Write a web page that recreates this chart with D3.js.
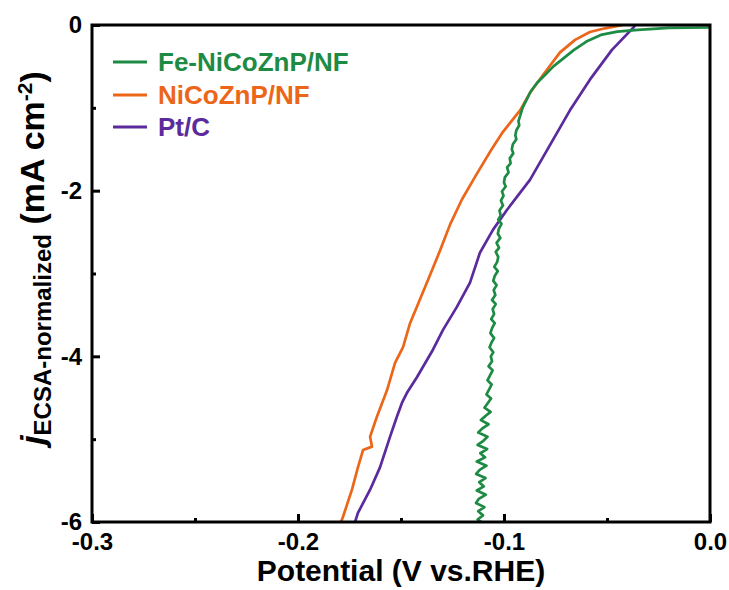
<!DOCTYPE html>
<html>
<head>
<meta charset="utf-8">
<script src="https://cdn.jsdelivr.net/npm/d3@7"></script>
<style>
	body { margin: 0; background: #fff; }
	text { font-family: "Liberation Sans", Arial, sans-serif; font-weight: bold; }
</style>
</head>
<body>
<svg id="chart" width="729" height="590"></svg>
<script>
// x: potential (V vs. RHE), y: current density (mA cm-2)
var seriesNames = ["Fe-NiCoZnP/NF", "NiCoZnP/NF", "Pt/C"];
var seriesColors = ["#1e8b45", "#ec6619", "#5b2a9c"];

var xTicks = [-0.3, -0.2, -0.1, 0.0];
var xMinor = [-0.25, -0.15, -0.05];
var yTicks = [0, -2, -4, -6];
var yMinor = [-1, -3, -5];

var feNiCoZnP = [
	[0.000,-0.03],[-0.020,-0.035],[-0.035,-0.06],[-0.045,-0.08],[-0.053,-0.12],
	[-0.060,-0.20],[-0.066,-0.30],[-0.071,-0.40],[-0.076,-0.50],[-0.080,-0.60],
	[-0.084,-0.70],[-0.087,-0.80],[-0.089,-0.90],[-0.091,-1.00],[-0.0922,-1.10],
	[-0.0930,-1.16],[-0.0926,-1.21],[-0.0940,-1.27],[-0.0945,-1.33],[-0.0940,-1.38],
	[-0.0957,-1.44],[-0.0962,-1.50],[-0.0955,-1.55],[-0.0972,-1.61],[-0.0968,-1.67],
	[-0.0985,-1.72],[-0.0978,-1.78],[-0.0996,-1.84],[-0.1000,-1.90],[-0.0992,-1.95],
	[-0.1010,-2.01],[-0.1002,-2.06],[-0.1015,-2.12],[-0.1005,-2.18],[-0.1022,-2.24],
	[-0.1016,-2.30],[-0.1028,-2.35],[-0.1012,-2.40],[-0.1025,-2.46],[-0.1030,-2.52],
	[-0.1018,-2.57],[-0.1036,-2.63],[-0.1024,-2.69],[-0.1040,-2.74],[-0.1028,-2.80],
	[-0.1033,-2.86],[-0.1047,-2.92],[-0.1030,-2.97],[-0.1045,-3.03],[-0.1052,-3.09],
	[-0.1036,-3.14],[-0.1050,-3.20],[-0.1042,-3.26],[-0.1058,-3.32],[-0.1040,-3.37],
	[-0.1055,-3.43],[-0.1048,-3.49],[-0.1062,-3.55],[-0.1045,-3.60],[-0.1058,-3.66],
	[-0.1066,-3.72],[-0.1048,-3.78],[-0.1060,-3.83],[-0.1070,-3.89],[-0.1052,-3.95],
	[-0.1064,-4.00],[-0.1058,-4.06],[-0.1075,-4.12],[-0.1055,-4.17],[-0.1068,-4.23],
	[-0.1080,-4.29],[-0.1060,-4.34],[-0.1072,-4.40],[-0.1085,-4.46],[-0.1063,-4.51],
	[-0.1080,-4.57],[-0.1095,-4.62],[-0.1065,-4.67],[-0.1090,-4.72],[-0.1112,-4.77],
	[-0.1075,-4.82],[-0.1105,-4.87],[-0.1125,-4.92],[-0.1080,-4.97],[-0.1100,-5.02],
	[-0.1128,-5.07],[-0.1082,-5.12],[-0.1115,-5.17],[-0.1092,-5.22],[-0.1132,-5.27],
	[-0.1085,-5.32],[-0.1118,-5.37],[-0.1135,-5.42],[-0.1090,-5.47],[-0.1120,-5.52],
	[-0.1098,-5.57],[-0.1132,-5.62],[-0.1088,-5.67],[-0.1122,-5.72],[-0.1136,-5.77],
	[-0.1095,-5.82],[-0.1125,-5.87],[-0.1102,-5.92],[-0.1128,-5.97],[-0.1110,-6.00]
];
var niCoZnP = [
	[-0.0422,0.00],[-0.0510,-0.04],[-0.0583,-0.085],[-0.0655,-0.18],[-0.0728,-0.33],
	[-0.0810,-0.60],[-0.0874,-0.82],[-0.0922,-1.03],[-0.1005,-1.29],[-0.1060,-1.50],
	[-0.1135,-1.81],[-0.1205,-2.11],[-0.1262,-2.41],[-0.1310,-2.72],[-0.1374,-3.11],
	[-0.1456,-3.60],[-0.1490,-3.89],[-0.1529,-4.08],[-0.1568,-4.41],[-0.1617,-4.73],
	[-0.1650,-4.97],[-0.1641,-5.09],[-0.1684,-5.13],[-0.1709,-5.34],[-0.1738,-5.61],
	[-0.1782,-5.94],[-0.1791,-6.00]
];
var ptC = [
	[-0.0364,-0.01],[-0.0476,-0.30],[-0.0583,-0.66],[-0.0680,-1.03],[-0.0777,-1.45],
	[-0.0874,-1.87],[-0.0985,-2.23],[-0.1053,-2.47],[-0.1117,-2.75],[-0.1165,-3.11],
	[-0.1228,-3.40],[-0.1296,-3.68],[-0.1345,-3.92],[-0.1422,-4.25],[-0.1471,-4.44],
	[-0.1495,-4.56],[-0.1520,-4.73],[-0.1553,-4.97],[-0.1602,-5.34],[-0.1650,-5.61],
	[-0.1709,-5.89],[-0.1723,-6.00]
];

var allSeries = [feNiCoZnP, niCoZnP, ptC];

function drawChart() {
	var svg = d3.select("#chart");
	var mLeft = 92, mRight = 710, mTop = 25, mBottom = 522;

	var x = d3.scaleLinear().domain([-0.3, 0]).range([mLeft, mRight]);
	var y = d3.scaleLinear().domain([-6, 0]).range([mBottom, mTop]);

	svg.append("clipPath").attr("id", "plotClip")
		.append("rect")
		.attr("x", mLeft).attr("y", mTop)
		.attr("width", mRight - mLeft).attr("height", mBottom - mTop);

	var line = d3.line()
		.x(function(d) { return x(d[0]); })
		.y(function(d) { return y(d[1]); });

	// curves, green last so it sits on top like in the original
	var drawOrder = [2, 1, 0];
	drawOrder.forEach(function(i) {
		svg.append("path")
			.datum(allSeries[i])
			.attr("clip-path", "url(#plotClip)")
			.attr("fill", "none")
			.attr("stroke", seriesColors[i])
			.attr("stroke-width", 2.7)
			.attr("stroke-linejoin", "round")
			.attr("d", line);
	});

	// frame
	svg.append("rect")
		.attr("x", mLeft).attr("y", mTop)
		.attr("width", mRight - mLeft).attr("height", mBottom - mTop)
		.attr("fill", "none").attr("stroke", "#000").attr("stroke-width", 3);

	// plain hyphen instead of the unicode minus d3 uses
	var fmtX = function(d) { return d3.format(".1f")(d).replace("\u2212", "-"); };
	var fmtY = function(d) { return String(d); };

	// x axis
	var gx = svg.append("g")
		.attr("transform", "translate(0," + mBottom + ")")
		.call(d3.axisBottom(x).tickValues(xTicks).tickSize(-8).tickPadding(11).tickFormat(fmtX));
	gx.select(".domain").remove();
	gx.selectAll(".tick line").attr("stroke", "#000").attr("stroke-width", 3);
	gx.selectAll(".tick text").attr("fill", "#000").style("font-size", "24px");

	var gxm = svg.append("g")
		.attr("transform", "translate(0," + mBottom + ")")
		.call(d3.axisBottom(x).tickValues(xMinor).tickSize(-4).tickFormat(""));
	gxm.select(".domain").remove();
	gxm.selectAll(".tick line").attr("stroke", "#000").attr("stroke-width", 3);

	// y axis
	var gy = svg.append("g")
		.attr("transform", "translate(" + mLeft + ",0)")
		.call(d3.axisLeft(y).tickValues(yTicks).tickSize(-8).tickPadding(10).tickFormat(fmtY));
	gy.select(".domain").remove();
	gy.selectAll(".tick line").attr("stroke", "#000").attr("stroke-width", 3);
	gy.selectAll(".tick text").attr("fill", "#000").style("font-size", "24px");

	var gym = svg.append("g")
		.attr("transform", "translate(" + mLeft + ",0)")
		.call(d3.axisLeft(y).tickValues(yMinor).tickSize(-4).tickFormat(""));
	gym.select(".domain").remove();
	gym.selectAll(".tick line").attr("stroke", "#000").attr("stroke-width", 3);

	// axis titles
	svg.append("text")
		.attr("x", (mLeft + mRight) / 2)
		.attr("y", 581)
		.attr("text-anchor", "middle")
		.style("font-size", "30px")
		.text("Potential (V vs.RHE)");

	var yl = svg.append("text")
		.attr("transform", "translate(44,258) rotate(-90)")
		.attr("text-anchor", "middle")
		.style("font-size", "34px");
	yl.append("tspan").style("font-style", "italic").text("j");
	yl.append("tspan").attr("dy", 7).style("font-size", "24px").text("ECSA-normalized");
	yl.append("tspan").attr("dy", -7).text(" (mA cm");
	yl.append("tspan").attr("dy", -12).style("font-size", "21px").text("-2");
	yl.append("tspan").attr("dy", 12).text(")");

	// legend
	var legendY = [62, 95, 127];
	seriesNames.forEach(function(name, i) {
		svg.append("line")
			.attr("x1", 113).attr("x2", 147)
			.attr("y1", legendY[i]).attr("y2", legendY[i])
			.attr("stroke", seriesColors[i]).attr("stroke-width", 3);
		svg.append("text")
			.attr("x", 158)
			.attr("y", legendY[i])
			.attr("dy", "0.36em")
			.attr("fill", seriesColors[i])
			.style("font-size", "26px")
			.text(name);
	});
}

drawChart();
</script>
</body>
</html>
